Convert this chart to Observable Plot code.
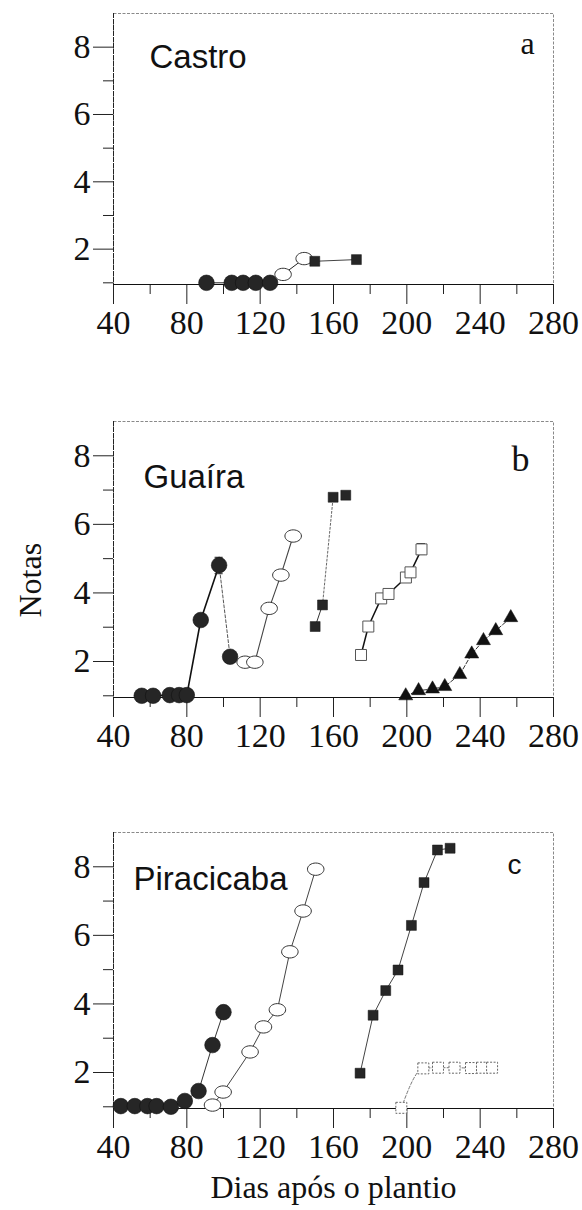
<!DOCTYPE html>
<html>
<head>
<meta charset="utf-8">
<script src="https://cdn.jsdelivr.net/npm/d3@7"></script>
<script src="https://cdn.jsdelivr.net/npm/@observablehq/plot@0.6"></script>
<style>
  html, body { margin: 0; padding: 0; background: #fff; }
  #wrap { position: relative; width: 582px; height: 1210px; overflow: hidden; }
  .panel { position: absolute; left: 0; }
</style>
</head>
<body>
<div id="wrap"></div>
<script>
// ---------------- DATA ----------------
const xTicksMajor = [40, 80, 120, 160, 200, 240, 280];
const xTicksMinor = [60, 100, 140, 180, 220, 260];
const yTicksMajor = [2, 4, 6, 8];
const yTicksMinor = [1, 3, 5, 7];
const panelTitles = ["Castro", "Guaíra", "Piracicaba"];
const panelLetters = ["a", "b", "c"];
const xTitle = "Dias após o plantio";
const yTitle = "Notas";

// Panel a — Castro
const aFilledCircleDays  = [90.7, 104.5, 110.7, 117.6, 125.4];
const aFilledCircleNotas = [1.0, 1.0, 1.0, 1.0, 1.0];
const aOpenCircleDays    = [132.5, 144.0];
const aOpenCircleNotas   = [1.25, 1.72];
const aFilledSquareDays  = [149.8, 172.5];
const aFilledSquareNotas = [1.64, 1.69];

// Panel b — Guaíra
const bFilledCircleDays  = [55.4, 61.6, 70.7, 75.8, 80.0, 87.6, 97.6, 103.6];
const bFilledCircleNotas = [1.0, 1.0, 1.02, 1.02, 1.02, 3.21, 4.81, 2.14];
const bOpenCircleDays    = [111.8, 117.1, 124.9, 131.3, 138.0];
const bOpenCircleNotas   = [1.98, 1.98, 3.55, 4.52, 5.66];
const bFilledSquareDays  = [150.0, 154.0, 159.8, 166.7];
const bFilledSquareNotas = [3.02, 3.65, 6.79, 6.85];
const bOpenSquareDays    = [175.0, 179.0, 186.0, 190.0, 199.5, 202.0, 208.0];
const bOpenSquareNotas   = [2.19, 3.02, 3.84, 3.97, 4.45, 4.6, 5.27];
const bTriangleDays      = [199.4, 206.4, 214.0, 220.7, 228.9, 235.4, 241.8, 248.5, 256.7];
const bTriangleNotas     = [1.0, 1.15, 1.2, 1.27, 1.62, 2.22, 2.61, 2.9, 3.28];
const bErrorDays = [97.6, 208.0];
const bErrorLow  = [4.56, 5.12];
const bErrorHigh = [5.04, 5.44];

// Panel c — Piracicaba
const cFilledCircleDays  = [44.0, 51.6, 58.5, 63.5, 71.3, 78.9, 86.4, 94.0, 100.0];
const cFilledCircleNotas = [1.02, 1.02, 1.02, 1.02, 1.0, 1.17, 1.46, 2.8, 3.76];
const cOpenCircleDays    = [94.0, 99.8, 114.5, 121.8, 129.4, 136.2, 143.4, 150.3];
const cOpenCircleNotas   = [1.05, 1.43, 2.6, 3.33, 3.83, 5.52, 6.71, 7.93];
const cFilledSquareDays  = [174.5, 181.6, 188.5, 195.2, 202.5, 209.4, 216.7, 223.6];
const cFilledSquareNotas = [1.98, 3.67, 4.39, 4.99, 6.29, 7.54, 8.49, 8.54];
const cOpenSquareDays    = [197.0, 209.0, 217.0, 226.0, 235.0, 241.0, 246.5];
const cOpenSquareNotas   = [0.97, 2.12, 2.14, 2.14, 2.13, 2.14, 2.14];

// ---------------- HELPERS ----------------
const zip = (xs, ys) => xs.map((x, i) => ({x, y: ys[i]}));

const ellipse = {
  draw(ctx, size) {
    const r = Math.sqrt(size / Math.PI);
    const rx = r * 1.18, ry = r * 0.88, k = 0.5523;
    ctx.moveTo(rx, 0);
    ctx.bezierCurveTo(rx, ry * k, rx * k, ry, 0, ry);
    ctx.bezierCurveTo(-rx * k, ry, -rx, ry * k, -rx, 0);
    ctx.bezierCurveTo(-rx, -ry * k, -rx * k, -ry, 0, -ry);
    ctx.bezierCurveTo(rx * k, -ry, rx, -ry * k, rx, 0);
    ctx.closePath();
  }
};

const DARK = "#262626";
const styles = {
  filledCircle: {symbol: "circle", r: 7.8, fill: DARK, stroke: "#111", strokeWidth: 0.6},
  openCircle:   {symbol: ellipse, r: 7, fill: "white", stroke: "#333", strokeWidth: 1},
  filledSquare: {symbol: "square", r: 5.6, fill: DARK, stroke: "#111", strokeWidth: 0.5},
  openSquare:   {symbol: "square", r: 6.2, fill: "white", stroke: "#555", strokeWidth: 1},
  openSquareDash: {symbol: "square", r: 6.2, fill: "white", stroke: "#666", strokeWidth: 1, strokeDasharray: "2,1.5"},
  triangle:     {symbol: "triangle", r: 5.2, fill: "#111", stroke: "#111", strokeWidth: 0.5}
};

function seg(pts, i0, i1, opts) {
  return Plot.line(pts.slice(i0, i1 + 1), {x: "x", y: "y", curve: "linear", ...opts});
}

function panel({title, letter, top, mTop, mBottom, frameH, titlePos, letterPos, series, extras = [], showXTitle = false, showYTitle = false}) {
  const marks = [
    Plot.frame({stroke: "#8a8a8a", strokeWidth: 1, strokeDasharray: "3,1.5"}),
    Plot.axisX({ticks: xTicksMinor, tickSize: 10, tickFormat: () => "", label: null, stroke: "#222"}),
    Plot.axisX({ticks: xTicksMajor, tickSize: 20, tickPadding: 5, label: null, stroke: "#222",
                fontSize: 34, fontFamily: "Liberation Serif"}),
    Plot.axisY({ticks: yTicksMinor, tickSize: 10, tickFormat: () => "", label: null, stroke: "#222"}),
    Plot.axisY({ticks: yTicksMajor, tickSize: 20, tickPadding: 3, label: null, stroke: "#222",
                fontSize: 34, fontFamily: "Liberation Serif"}),
    Plot.ruleY([0.95], {stroke: "#111", strokeWidth: 1.1}),
    Plot.ruleX([40], {stroke: "#222", strokeWidth: 1, strokeDasharray: "5,1"}),
  ];
  for (const s of series) marks.push(...s.lines);
  marks.push(...extras);
  for (const s of series) marks.push(Plot.dot(s.pts, {x: "x", y: "y", ...styles[s.style]}));
  marks.push(Plot.text([title], {frameAnchor: "top-left", textAnchor: "start", lineAnchor: "bottom",
    dx: titlePos[0], dy: titlePos[1], fontFamily: "Liberation Sans", fontSize: 33, fill: "#111"}));
  marks.push(Plot.text([letter], {frameAnchor: "top-right", textAnchor: "middle", lineAnchor: "bottom",
    dx: letterPos[0], dy: letterPos[1], fontFamily: letterPos[2], fontSize: letterPos[3], fill: "#111"}));
  if (showYTitle) marks.push(Plot.text([yTitle], {frameAnchor: "left", rotate: -90, dx: -83, dy: 58,
    fontFamily: "Liberation Serif", fontSize: 32, fill: "#111"}));
  if (showXTitle) marks.push(Plot.text([xTitle], {frameAnchor: "bottom", lineAnchor: "bottom", dy: 89,
    fontFamily: "Liberation Serif", fontSize: 32, fill: "#111", letterSpacing: "0.5px"}));
  const p = Plot.plot({
    width: 582,
    height: mTop + frameH + mBottom,
    marginLeft: 113, marginRight: 29, marginTop: mTop, marginBottom: mBottom,
    x: {type: "linear", domain: [40, 280]},
    y: {type: "linear", domain: [0.95, 9]},
    style: {fontFamily: "Liberation Serif", fontSize: "34px", color: "#111", background: "transparent", overflow: "visible"},
    marks
  });
  const div = document.createElement("div");
  div.className = "panel";
  div.style.top = top + "px";
  div.appendChild(p);
  document.getElementById("wrap").appendChild(div);
}

// ---------------- PANEL a ----------------
{
  const fc = zip(aFilledCircleDays, aFilledCircleNotas);
  const oc = zip(aOpenCircleDays, aOpenCircleNotas);
  const fs = zip(aFilledSquareDays, aFilledSquareNotas);
  panel({
    title: panelTitles[0], letter: panelLetters[0], top: 0, mTop: 13, mBottom: 60, frameH: 271,
    titlePos: [36, 54], letterPos: [-26, 40, "Liberation Serif", 32],
    series: [
      {pts: fc, style: "filledCircle", lines: [seg(fc, 0, fc.length - 1, {stroke: "#222", strokeWidth: 1})]},
      {pts: oc, style: "openCircle", lines: [seg(oc, 0, 1, {stroke: "#222", strokeWidth: 1})]},
      {pts: fs, style: "filledSquare", lines: [seg(fs, 0, 1, {stroke: "#444", strokeWidth: 1})]}
    ]
  });
}

// ---------------- PANEL b ----------------
{
  const fc = zip(bFilledCircleDays, bFilledCircleNotas);
  const oc = zip(bOpenCircleDays, bOpenCircleNotas);
  const fs = zip(bFilledSquareDays, bFilledSquareNotas);
  const os = zip(bOpenSquareDays, bOpenSquareNotas);
  const tr = zip(bTriangleDays, bTriangleNotas);
  const err = bErrorDays.map((d, i) => ({x: d, lo: bErrorLow[i], hi: bErrorHigh[i]}));
  const cap = {x1: d => d.x - 2.2, x2: d => d.x + 2.2, stroke: "#222", strokeWidth: 1};
  panel({
    title: panelTitles[1], letter: panelLetters[1], top: 401, mTop: 20, mBottom: 60, frameH: 276,
    titlePos: [30, 66], letterPos: [-33, 49, "Liberation Serif", 36],
    showYTitle: true,
    series: [
      {pts: fc, style: "filledCircle", lines: [
        seg(fc, 0, 6, {stroke: "#111", strokeWidth: 1.6}),
        seg(fc, 6, 7, {stroke: "#555", strokeWidth: 1, strokeDasharray: "3,2"})]},
      {pts: oc, style: "openCircle", lines: [seg(oc, 0, oc.length - 1, {stroke: "#444", strokeWidth: 1.1})]},
      {pts: fs, style: "filledSquare", lines: [
        seg(fs, 0, 1, {stroke: "#333", strokeWidth: 1}),
        seg(fs, 1, 2, {stroke: "#666", strokeWidth: 1, strokeDasharray: "2,2"})]},
      {pts: os, style: "openSquare", lines: [seg(os, 0, os.length - 1, {stroke: "#111", strokeWidth: 1.5})]},
      {pts: tr, style: "triangle", lines: [seg(tr, 0, tr.length - 1, {stroke: "#333", strokeWidth: 1, strokeDasharray: "4,2"})]}
    ],
    extras: [
      Plot.ruleX(err, {x: "x", y1: "lo", y2: "hi", stroke: "#222", strokeWidth: 1}),
      Plot.ruleY(err, {y: "lo", ...cap}),
      Plot.ruleY(err, {y: "hi", ...cap}),
    ]
  });
}

// ---------------- PANEL c ----------------
{
  const fc = zip(cFilledCircleDays, cFilledCircleNotas);
  const oc = zip(cOpenCircleDays, cOpenCircleNotas);
  const fs = zip(cFilledSquareDays, cFilledSquareNotas);
  const os = zip(cOpenSquareDays, cOpenSquareNotas);
  panel({
    title: panelTitles[2], letter: panelLetters[2], top: 812, mTop: 20, mBottom: 100, frameH: 276,
    titlePos: [20, 57], letterPos: [-39, 41, "Liberation Sans", 28],
    showXTitle: true,
    series: [
      {pts: fc, style: "filledCircle", lines: [seg(fc, 0, fc.length - 1, {stroke: "#333", strokeWidth: 1})]},
      {pts: oc, style: "openCircle", lines: [seg(oc, 0, oc.length - 1, {stroke: "#444", strokeWidth: 1})]},
      {pts: fs, style: "filledSquare", lines: [seg(fs, 0, fs.length - 1, {stroke: "#444", strokeWidth: 1})]},
      {pts: os, style: "openSquareDash", lines: [seg(os, 0, os.length - 1, {stroke: "#777", strokeWidth: 1, strokeDasharray: "3,2", curve: "monotone-x"})]}
    ]
  });
}
</script>
</body>
</html>
